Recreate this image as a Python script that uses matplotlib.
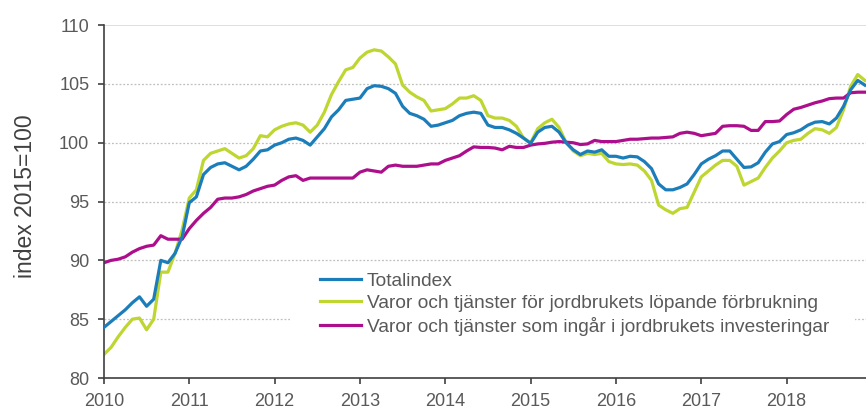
import numpy as np
import matplotlib.pyplot as plt
from matplotlib.patches import Rectangle

plt.rcParams['font.family'] = ['Liberation Sans', 'DejaVu Sans']

# monthly index values, Jan 2010 - Dec 2018 (2015=100)
totalindex = [
    84.3, 84.8, 85.3, 85.8, 86.4, 86.9, 86.1, 86.7, 90.0, 89.8, 90.6, 92.0,
    94.9, 95.4, 97.3, 97.9, 98.2, 98.3, 98.0, 97.7, 98.0, 98.6, 99.3, 99.4,
    99.8, 100.0, 100.3, 100.4, 100.2, 99.8, 100.5, 101.2, 102.2, 102.8, 103.6, 103.7,
    103.8, 104.6, 104.85, 104.8, 104.6, 104.2, 103.1, 102.5, 102.3, 102.0, 101.4, 101.5,
    101.7, 101.9, 102.3, 102.5, 102.6, 102.5, 101.5, 101.3, 101.3, 101.1, 100.8, 100.4,
    99.95, 100.9, 101.3, 101.4, 100.9, 100.0, 99.4, 99.0, 99.3, 99.2, 99.4, 98.85,
    98.85, 98.7, 98.85, 98.8, 98.4, 97.8, 96.5, 96.0, 96.0, 96.2, 96.5, 97.3,
    98.2, 98.6, 98.9, 99.3, 99.3, 98.6, 97.9, 97.95, 98.3, 99.2, 99.9, 100.1,
    100.7, 100.85, 101.1, 101.5, 101.75, 101.8, 101.6, 102.1, 103.1, 104.5, 105.3, 104.9,
]
lopande = [
    82.0, 82.6, 83.5, 84.3, 85.0, 85.1, 84.1, 85.0, 89.0, 89.0, 90.6, 92.6,
    95.3, 96.0, 98.5, 99.1, 99.3, 99.5, 99.1, 98.7, 98.9, 99.5, 100.6, 100.5,
    101.1, 101.4, 101.6, 101.7, 101.5, 100.9, 101.5, 102.6, 104.1, 105.2, 106.2, 106.4,
    107.2, 107.7, 107.9, 107.8, 107.3, 106.7, 104.9, 104.3, 103.9, 103.6, 102.7, 102.8,
    102.9, 103.3, 103.8, 103.8, 104.0, 103.6, 102.3, 102.1, 102.1, 101.9, 101.4, 100.4,
    100.0, 101.2, 101.7, 102.0, 101.3, 100.0, 99.3, 98.9, 99.1, 99.0, 99.1, 98.4,
    98.2, 98.15, 98.2, 98.1, 97.6, 96.8, 94.7, 94.3, 94.0, 94.4, 94.5, 95.8,
    97.1, 97.6, 98.1, 98.5, 98.5, 98.0, 96.4, 96.7, 97.0, 97.9, 98.7, 99.3,
    100.0, 100.2, 100.3, 100.8, 101.2, 101.1, 100.8, 101.3, 102.8, 104.8, 105.8, 105.3,
]
investeringar = [
    89.8, 90.0, 90.1, 90.3, 90.7, 91.0, 91.2, 91.3, 92.1, 91.8, 91.8, 91.8,
    92.7, 93.4, 94.0, 94.5, 95.2, 95.3, 95.3, 95.4, 95.6, 95.9, 96.1, 96.3,
    96.4, 96.8, 97.1, 97.2, 96.8, 97.0, 97.0, 97.0, 97.0, 97.0, 97.0, 97.0,
    97.5, 97.7, 97.6, 97.5, 98.0, 98.1, 98.0, 98.0, 98.0, 98.1, 98.2, 98.2,
    98.5, 98.7, 98.9, 99.3, 99.65, 99.6, 99.6, 99.55, 99.4, 99.7, 99.6, 99.6,
    99.8, 99.9, 99.95, 100.05, 100.1, 100.05, 100.0, 99.85, 99.9, 100.2, 100.1, 100.1,
    100.1, 100.2, 100.3, 100.3, 100.35, 100.4, 100.4, 100.45, 100.5, 100.8, 100.9, 100.8,
    100.6, 100.7, 100.8, 101.4, 101.45, 101.45, 101.4, 101.05, 101.05, 101.8, 101.8, 101.85,
    102.4, 102.85, 103.0, 103.2, 103.4, 103.55, 103.75, 103.8, 103.8, 104.25, 104.3, 104.3,
]
labels = [
    'Totalindex',
    'Varor och tjänster för jordbrukets löpande förbrukning',
    'Varor och tjänster som ingår i jordbrukets investeringar',
]
years = list(range(2010, 2019))

x = 2010 + np.arange(len(totalindex)) / 12.0

fig = plt.figure(figsize=(8.66, 4.12), dpi=100)
ax = fig.add_axes([0.120, 0.0825, 0.880, 0.8565])

for v in [85, 90, 95, 100, 105]:
    ax.axhline(v, color='#bfbfbf', lw=0.9, ls=(0, (1.5, 1.5)), zorder=0)
ax.axhline(110, color='#d9d9d9', lw=1.2, zorder=0)

# white legend box hides the grid behind it
ax.add_patch(Rectangle((0.244, 0.108), 0.742, 0.204, transform=ax.transAxes,
                       facecolor='white', edgecolor='none', zorder=1))

ax.plot(x, totalindex, color='#1b7dba', lw=2.3, label=labels[0], zorder=3)
ax.plot(x, lopande, color='#bed62f', lw=2.3, label=labels[1], zorder=2)
ax.plot(x, investeringar, color='#ad0f8c', lw=2.3, label=labels[2], zorder=2)

ax.set_xlim(2010, 2018.93)
ax.set_ylim(80, 110)
ax.set_xticks(years)
ax.set_xticklabels([str(y) for y in years])
ax.set_yticks(range(80, 111, 5))

for s in ['top', 'right']:
    ax.spines[s].set_visible(False)
for s in ['left', 'bottom']:
    ax.spines[s].set_color('#404040')
    ax.spines[s].set_linewidth(1.2)

ax.tick_params(axis='both', colors='#404040', labelcolor='#595959',
               labelsize=13, length=4.5, width=1.2)
ax.tick_params(axis='y', pad=6)
ax.tick_params(axis='x', pad=6)

ax.set_ylabel('index 2015=100', fontsize=16.5, color='#404040')
ax.yaxis.set_label_coords(-0.088, 0.515)

h, l = ax.get_legend_handles_labels()
leg = ax.legend(h, l, loc='upper left', bbox_to_anchor=(0.2835, 0.299),
                frameon=False, fontsize=13.8, borderpad=0, borderaxespad=0,
                handlelength=2.15, handletextpad=0.3, labelspacing=0.25)
for t in leg.get_texts():
    t.set_color('#595959')
leg.set_zorder(4)

fig.savefig('out.png', dpi=100)
